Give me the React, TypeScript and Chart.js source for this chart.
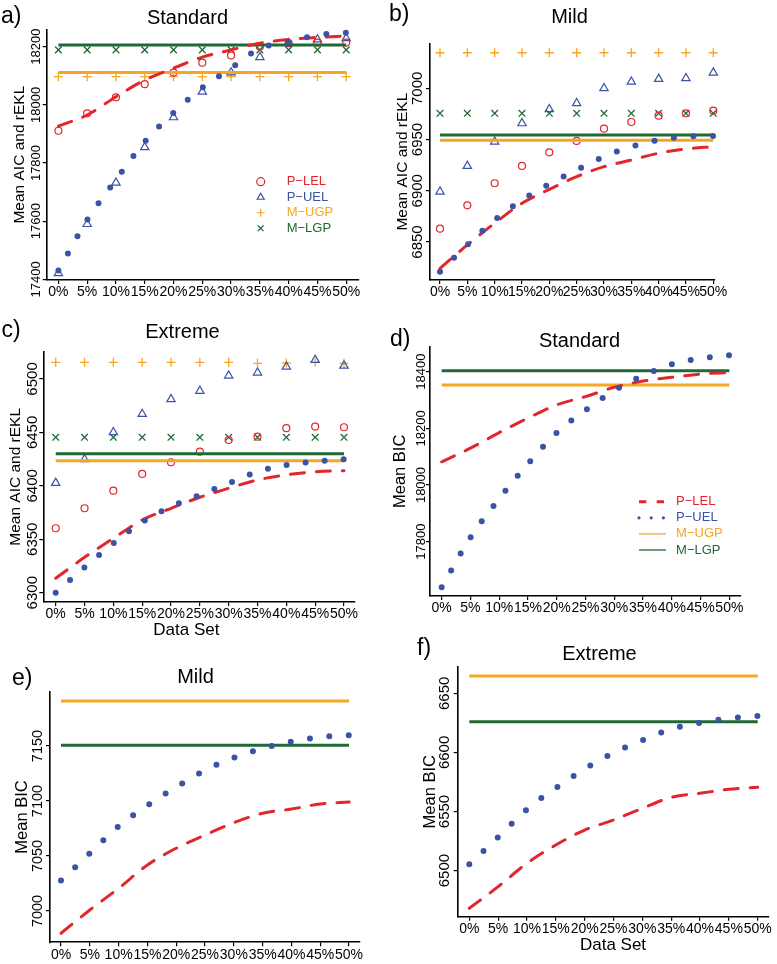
import React, { useEffect, useRef } from 'react';
import { Chart, registerables } from 'chart.js';

Chart.register(...registerables);

const FONT = '"Liberation Sans", Arial, Helvetica, sans-serif';
Chart.defaults.font.family = FONT;
Chart.defaults.color = '#000';

const RED = '#E2262C';
const BLUE = '#3A53A4';
const ORANGE = '#F6A623';
const GREEN = '#1E6A34';

// ---- shared categories: share of the data set (%) ----
const dataSetPct = [0, 5, 10, 15, 20, 25, 30, 35, 40, 45, 50];
const seriesNames = ['P\u2212LEL', 'P\u2212UEL', 'M\u2212UGP', 'M\u2212LGP'];

// ---- a) Standard: mean AIC and rEKL ----
const aLELMarks = [17911, 17971, 18026, 18071, 18111, 18145, 18170, 18200, 18212, 18214, 18214];
const aUELMarks = [17421, 17590, 17732, 17854, 17957, 18045, 18111, 18164, 18212, 18225, 18229];
const aUGPMarks = [18097, 18097, 18097, 18097, 18097, 18097, 18097, 18097, 18097, 18097, 18097];
const aLGPMarks = [18189, 18189, 18189, 18189, 18189, 18189, 18189, 18189, 18189, 18189, 18189];
const aLELCurve = [17927, 17965, 18028, 18085, 18126, 18164, 18189, 18212, 18225, 18232, 18237];
const aUELCurve = [17430, 17604, 17742, 17873, 17973, 18059, 18126, 18194, 18217, 18240, 18248];
const aUGPLevel = 18111;
const aLGPLevel = 18206;
const aYTicks = [17400, 17600, 17800, 18000, 18200];

// ---- b) Mild: mean AIC and rEKL ----
const bLELMarks = [6863, 6885.8, 6907.3, 6924.2, 6937.5, 6948.6, 6960.6, 6967.1, 6973.3, 6975.6, 6978.1];
const bUELMarks = [6899.1, 6924.2, 6947.9, 6965.8, 6979.5, 6985.4, 7000, 7006.4, 7009.1, 7009.8, 7015.2];
const bUGPMarks = [7034.7, 7034.7, 7034.7, 7034.7, 7034.7, 7034.7, 7034.7, 7034.7, 7034.7, 7034.7, 7034.7];
const bLGPMarks = [6975.6, 6975.6, 6975.6, 6975.6, 6975.6, 6975.6, 6975.6, 6975.6, 6975.6, 6975.6, 6975.6];
const bLELCurve = [6824.3, 6847.1, 6868.3, 6887.8, 6901.4, 6913.7, 6923.5, 6930, 6936.6, 6940.8, 6943];
const bUELCurve = [6821, 6847.1, 6871.5, 6891, 6906.6, 6920.3, 6933.2, 6943, 6949.5, 6952.8, 6953.5];
const bUGPLevel = 6949.3;
const bLGPLevel = 6954.4;
const bYTicks = [6850, 6900, 6950, 7000];

// ---- c) Extreme: mean AIC and rEKL ----
const cLELMarks = [6360.3, 6379, 6395.5, 6411.1, 6422, 6432, 6442.9, 6446, 6453.9, 6455.4, 6454.8];
const cUELMarks = [6402.7, 6424.8, 6450.1, 6467.2, 6481, 6488.8, 6503.1, 6505.9, 6511.5, 6517.8, 6512.4];
const cUGPMarks = [6515.6, 6515.6, 6515.6, 6515.6, 6515.6, 6515.6, 6515.6, 6514.6, 6515, 6515.6, 6514.6];
const cLGPMarks = [6445.4, 6445.4, 6445.4, 6445.4, 6445.4, 6445.4, 6445.4, 6445.4, 6445.4, 6445.4, 6445.4];
const cLELCurve = [6313.5, 6333.1, 6350.9, 6368, 6379, 6389.3, 6397.7, 6405.5, 6410.2, 6413.2, 6414.2];
const cUELCurve = [6300, 6323.8, 6346.2, 6365.9, 6380.5, 6391.4, 6402.4, 6413.2, 6419.5, 6422.6, 6424.8];
const cUGPLevel = 6423.5;
const cLGPLevel = 6430.1;
const cYTicks = [6300, 6350, 6400, 6450, 6500];

// ---- d) Standard: mean BIC ----
const dLELCurve = [18082, 18130, 18185, 18236, 18283, 18312, 18345, 18367, 18380, 18392, 18397];
const dUELCurve = [17639, 17815, 17952, 18075, 18185, 18264, 18334, 18386, 18426, 18447, 18458];
const dUGPLevel = 18353;
const dLGPLevel = 18403.5;
const dYTicks = [17800, 18000, 18200, 18400];

// ---- e) Mild: mean BIC ----
const eLELCurve = [6979.7, 7000.9, 7020.6, 7041.8, 7057, 7069, 7080.3, 7088.8, 7092.7, 7097.3, 7099];
const eUELCurve = [7027.6, 7052.4, 7077, 7096, 7112.7, 7127.9, 7139.4, 7147.9, 7153.9, 7158.2, 7159.7];
const eUGPLevel = 7190.9;
const eLGPLevel = 7150.6;
const eYTicks = [7000, 7050, 7100, 7150];

// ---- f) Extreme: mean BIC ----
const fLELCurve = [6468.1, 6486.4, 6506.2, 6521.7, 6534.3, 6542.8, 6552.7, 6562, 6565.4, 6568.8, 6570.5];
const fUELCurve = [6505.3, 6528.4, 6551.9, 6569.9, 6586, 6599.5, 6610.2, 6619.8, 6625.1, 6628.8, 6630.8];
const fUGPLevel = 6664.6;
const fLGPLevel = 6626;
const fYTicks = [6500, 6550, 6600, 6650];

// ---------------- styles ----------------
const SERIES_COLORS = [RED, BLUE, ORANGE, GREEN];
const MARKER_STYLES = ['circle', 'triangle', 'cross', 'crossRot'];
const MARKER_RADII = [3.5, 4.8, 4.5, 4.7];
const LEGEND_LINE_STYLES = [
  { width: 3, dash: [7.3, 10.4], cap: 'butt' },
  { width: 3.2, dash: [0, 12.2], cap: 'round' },
  { width: 1.3, dash: [], cap: 'butt' },
  { width: 1.3, dash: [], cap: 'butt' },
];
const DOT_GAP = 19.6;
const TICK_LEN = 4;
const LETTER_SIZE = 23;
const TITLE_SIZE = 20;
const LEGEND_FONT = 13;

type Spec = {
  id: string;
  letter: string;
  letterPos: [number, number];
  title: string;
  titlePos: [number, number];
  canvas: { x: number; y: number; w: number; h: number };
  area: { l: number; t: number; r: number; b: number };
  xRange: [number, number];
  yRange: [number, number];
  yTicks: number[];
  yTickSize: number;
  yTickGap: number;
  yTitle: string;
  yTitleSize: number;
  yTitleX: number;
  xTitle?: string;
  xTitleY?: number;
  lelCurve: number[];
  uelCurve: number[];
  ugpLevel: number;
  lgpLevel: number;
  marks?: number[][];
  legend?: 'symbols' | 'lines';
  legendPos?: [number, number];
  legendRowGap?: number;
};

const SPECS: Spec[] = [
  {
    id: 'a', letter: 'a)', letterPos: [1, 23.5], title: 'Standard', titlePos: [187.5, 24],
    canvas: { x: 0, y: 0, w: 388, h: 318 }, area: { l: 46.7, t: 29.3, r: 358.3, b: 280 },
    xRange: [-2.03, 52.1], yRange: [17397.7, 18259.8], yTicks: aYTicks, yTickSize: 13, yTickGap: 10,
    yTitle: 'Mean AIC and rEKL', yTitleSize: 15.5, yTitleX: 19.5,
    lelCurve: aLELCurve, uelCurve: aUELCurve, ugpLevel: aUGPLevel, lgpLevel: aLGPLevel,
    marks: [aLELMarks, aUELMarks, aUGPMarks, aLGPMarks],
    legend: 'symbols', legendPos: [260.7, 181.7], legendRowGap: 15.53,
  },
  {
    id: 'b', letter: 'b)', letterPos: [389, 21.7], title: 'Mild', titlePos: [569.5, 22.5],
    canvas: { x: 386, y: 0, w: 391, h: 318 }, area: { l: 430, t: 43.3, r: 715, b: 280 },
    xRange: [-1.83, 50.31], yRange: [6812.9, 7043.9], yTicks: bYTicks, yTickSize: 15, yTickGap: 12,
    yTitle: 'Mean AIC and rEKL', yTitleSize: 15.5, yTitleX: 403,
    lelCurve: bLELCurve, uelCurve: bUELCurve, ugpLevel: bUGPLevel, lgpLevel: bLGPLevel,
    marks: [bLELMarks, bUELMarks, bUGPMarks, bLGPMarks],
  },
  {
    id: 'c', letter: 'c)', letterPos: [1.5, 337.5], title: 'Extreme', titlePos: [182.5, 337.5],
    canvas: { x: 0, y: 318, w: 388, h: 330 }, area: { l: 43.3, t: 351.7, r: 355, b: 602 },
    xRange: [-2.15, 51.91], yRange: [6291.3, 6525.5], yTicks: cYTicks, yTickSize: 15, yTickGap: 10,
    yTitle: 'Mean AIC and rEKL', yTitleSize: 15.5, yTitleX: 15.8,
    xTitle: 'Data Set\u2002\u2002\u2002', xTitleY: 630,
    lelCurve: cLELCurve, uelCurve: cUELCurve, ugpLevel: cUGPLevel, lgpLevel: cLGPLevel,
    marks: [cLELMarks, cUELMarks, cUGPMarks, cLGPMarks],
  },
  {
    id: 'd', letter: 'd)', letterPos: [390, 346.5], title: 'Standard', titlePos: [579.5, 347],
    canvas: { x: 386, y: 318, w: 391, h: 322 }, area: { l: 430, t: 346.7, r: 740.7, b: 596 },
    xRange: [-2.03, 51.97], yRange: [17608.3, 18488.2], yTicks: dYTicks, yTickSize: 13, yTickGap: 8.3,
    yTitle: 'Mean BIC', yTitleSize: 16.5, yTitleX: 400.8,
    lelCurve: dLELCurve, uelCurve: dUELCurve, ugpLevel: dUGPLevel, lgpLevel: dLGPLevel,
    legend: 'lines', legendPos: [652.5, 501.7], legendRowGap: 16.1,
  },
  {
    id: 'e', letter: 'e)', letterPos: [12, 685], title: 'Mild', titlePos: [195.5, 682.5],
    canvas: { x: 0, y: 648, w: 388, h: 316 }, area: { l: 50, t: 691.7, r: 360, b: 942.3 },
    xRange: [-1.91, 51.9], yRange: [6971.5, 7199.4], yTicks: eYTicks, yTickSize: 14.5, yTickGap: 11.7,
    yTitle: 'Mean BIC', yTitleSize: 16.5, yTitleX: 22.5,
    lelCurve: eLELCurve, uelCurve: eUELCurve, ugpLevel: eUGPLevel, lgpLevel: eLGPLevel,
  },
  {
    id: 'f', letter: 'f)', letterPos: [417, 655], title: 'Extreme', titlePos: [599.5, 660],
    canvas: { x: 386, y: 640, w: 391, h: 324 }, area: { l: 457.7, t: 666.7, r: 768.3, b: 916.7 },
    xRange: [-2.01, 51.84], yRange: [6461, 6672.5], yTicks: fYTicks, yTickSize: 15, yTickGap: 12.7,
    yTitle: 'Mean BIC', yTitleSize: 16.5, yTitleX: 430.8,
    xTitle: 'Data Set', xTitleY: 945,
    lelCurve: fLELCurve, uelCurve: fUELCurve, ugpLevel: fUGPLevel, lgpLevel: fLGPLevel,
  },
];

// ---------------- helpers ----------------
const pts = (vals: number[]) => dataSetPct.map((x, i) => ({ x, y: vals[i] }));
const level = (v: number) => [
  { x: dataSetPct[0], y: v },
  { x: dataSetPct[dataSetPct.length - 1], y: v },
];

function measure(text: string, font: string) {
  const ctx = document.createElement('canvas').getContext('2d');
  if (!ctx) return text.length * 8;
  ctx.font = font;
  return ctx.measureText(text).width;
}

// put the (chartArea-positioned) legend at an exact spot inside the plot
const legendPlacer = {
  id: 'legendPlacer',
  beforeDraw(chart: any, _args: any, opts: any) {
    const lg = chart.legend;
    if (!lg || !opts || typeof opts.left !== 'number') return;
    lg.left = opts.left;
    lg.top = opts.top;
    lg.right = opts.left + 170;
    lg.bottom = opts.top + 170;
  },
};

// spread the round dots of a dotted curve evenly so one lands on each end
const dotFitter = {
  id: 'dotFitter',
  beforeDatasetsDraw(chart: any) {
    chart.data.datasets.forEach((ds: any, i: number) => {
      if (!ds.dotGap) return;
      const meta = chart.getDatasetMeta(i);
      const el = meta.data;
      if (!meta.dataset || !el || el.length < 2) return;
      let L = 0;
      for (let k = 0; k < el.length - 1; k++) {
        const a = el[k];
        const b = el[k + 1];
        const x0 = a.x, y0 = a.y;
        const x1 = a.cp2x ?? a.x, y1 = a.cp2y ?? a.y;
        const x2 = b.cp1x ?? b.x, y2 = b.cp1y ?? b.y;
        const x3 = b.x, y3 = b.y;
        let px = x0, py = y0;
        const N = 60;
        for (let t = 1; t <= N; t++) {
          const u = t / N;
          const m = 1 - u;
          const qx = m * m * m * x0 + 3 * m * m * u * x1 + 3 * m * u * u * x2 + u * u * u * x3;
          const qy = m * m * m * y0 + 3 * m * m * u * y1 + 3 * m * u * u * y2 + u * u * u * y3;
          L += Math.hypot(qx - px, qy - py);
          px = qx;
          py = qy;
        }
      }
      const n = Math.max(1, Math.round(L / ds.dotGap));
      meta.dataset.options.borderDash = [0, L / n - 0.02];
    });
  },
};

function buildDatasets(s: Spec) {
  const ds: any[] = [
    {
      label: seriesNames[1], data: pts(s.uelCurve), borderColor: BLUE, borderWidth: 6,
      borderDash: [0, DOT_GAP], borderCapStyle: 'round', pointRadius: 0,
      cubicInterpolationMode: 'monotone', clip: false, dotGap: DOT_GAP,
    },
    {
      label: seriesNames[0], data: pts(s.lelCurve), borderColor: RED, borderWidth: 3,
      borderDash: [14, 12], borderCapStyle: 'round', pointRadius: 0,
      cubicInterpolationMode: 'monotone', clip: false,
    },
    { label: seriesNames[3], data: level(s.lgpLevel), borderColor: GREEN, borderWidth: 3, pointRadius: 0, clip: false },
    { label: seriesNames[2], data: level(s.ugpLevel), borderColor: ORANGE, borderWidth: 3, pointRadius: 0, clip: false },
  ];
  if (s.marks) {
    s.marks.forEach((vals, i) => {
      ds.push({
        label: seriesNames[i], data: pts(vals), showLine: false,
        pointStyle: MARKER_STYLES[i], pointRadius: MARKER_RADII[i],
        pointBorderColor: SERIES_COLORS[i], pointBackgroundColor: 'rgba(0,0,0,0)',
        pointBorderWidth: i >= 2 ? 1.3 : 1.2, borderColor: SERIES_COLORS[i],
        backgroundColor: 'rgba(0,0,0,0)', clip: false,
      });
    });
  }
  return ds;
}

function buildConfig(s: Spec): any {
  const { canvas: cv, area } = s;
  const tickFont = `${s.yTickSize}px ${FONT}`;
  const widest = Math.max(...s.yTicks.map((v) => measure(String(v), tickFont)));
  const yPad = s.yTickGap - TICK_LEN - widest / 2;
  const yAxisW = area.l - cv.x;
  const xAxisH = cv.y + cv.h - area.b;
  const yTitleLH = s.yTitleSize * 1.2;

  const grid = {
    display: true, drawOnChartArea: false, drawTicks: true, tickLength: TICK_LEN,
    color: '#000', tickColor: '#000', lineWidth: 1.2,
  };
  const border = { display: true, color: '#000', width: 1.6 };

  let legendOpts: any = { display: false };
  let placer: any = {};
  if (s.legend && s.legendPos && s.legendRowGap) {
    const pad = s.legendRowGap - LEGEND_FONT;
    const isSym = s.legend === 'symbols';
    const boxW = isSym ? LEGEND_FONT : 27;
    const prefix = isSym ? '\u2002\u2002' : ' ';
    placer = {
      left: s.legendPos[0] - cv.x - pad - boxW / 2,
      top: s.legendPos[1] - cv.y - LEGEND_FONT / 2 - pad,
    };
    legendOpts = {
      display: true,
      position: 'chartArea',
      fullSize: false,
      align: 'start',
      labels: {
        usePointStyle: true,
        pointStyleWidth: isSym ? undefined : boxW,
        boxWidth: boxW,
        boxHeight: 5.66,
        padding: pad,
        font: { size: LEGEND_FONT, family: FONT },
        generateLabels: () =>
          seriesNames.map((name, i) => {
            const ls = LEGEND_LINE_STYLES[i];
            return isSym
              ? {
                  text: prefix + name, fillStyle: 'rgba(0,0,0,0)', strokeStyle: SERIES_COLORS[i],
                  fontColor: SERIES_COLORS[i], lineWidth: 1.2, pointStyle: MARKER_STYLES[i],
                  hidden: false, datasetIndex: i, lineDash: [], lineCap: 'butt',
                }
              : {
                  text: prefix + name, fillStyle: 'rgba(0,0,0,0)', strokeStyle: SERIES_COLORS[i],
                  fontColor: SERIES_COLORS[i], lineWidth: ls.width, pointStyle: 'line',
                  hidden: false, datasetIndex: i, lineDash: ls.dash, lineCap: ls.cap,
                };
          }),
      },
    };
  }

  const xTitle = s.xTitle
    ? {
        display: true, text: s.xTitle, color: '#000',
        font: { size: 17, family: FONT },
        padding: { top: 0, bottom: cv.h - 17 * 0.6 - ((s.xTitleY as number) - cv.y) },
      }
    : { display: false };

  return {
    type: 'line',
    data: { datasets: buildDatasets(s) },
    options: {
      responsive: false,
      maintainAspectRatio: false,
      animation: false,
      events: [],
      layout: {
        autoPadding: false,
        padding: { left: 0, top: area.t - cv.y, right: cv.x + cv.w - area.r, bottom: 0 },
      },
      scales: {
        x: {
          type: 'linear', bounds: 'data', min: s.xRange[0], max: s.xRange[1],
          afterBuildTicks: (sc: any) => { sc.ticks = dataSetPct.map((v) => ({ value: v })); },
          afterFit: (sc: any) => { sc.height = xAxisH; },
          ticks: {
            autoSkip: false, maxRotation: 0, minRotation: 0, padding: 0, color: '#000',
            font: { size: 14, family: FONT }, callback: (v: any) => `${v}%`,
          },
          grid, border, title: xTitle,
        },
        y: {
          type: 'linear', bounds: 'data', min: s.yRange[0], max: s.yRange[1],
          afterBuildTicks: (sc: any) => { sc.ticks = s.yTicks.map((v) => ({ value: v })); },
          afterFit: (sc: any) => { sc.width = yAxisW; },
          ticks: {
            minRotation: 90, maxRotation: 90, crossAlign: 'center', padding: yPad, color: '#000',
            font: { size: s.yTickSize, family: FONT }, callback: (v: any) => String(v),
          },
          grid, border,
          title: {
            display: true, text: s.yTitle, color: '#000',
            font: { size: s.yTitleSize, family: FONT },
            padding: { top: s.yTitleX - cv.x - yTitleLH / 2, bottom: 0 },
          },
        },
      },
      plugins: {
        legend: legendOpts,
        title: { display: false },
        tooltip: { enabled: false },
        legendPlacer: placer,
      },
    },
    plugins: [legendPlacer, dotFitter],
  };
}

function Panel({ spec }: { spec: Spec }) {
  const ref = useRef<HTMLCanvasElement | null>(null);
  useEffect(() => {
    if (!ref.current) return;
    const chart = new Chart(ref.current, buildConfig(spec));
    return () => chart.destroy();
  }, [spec]);
  const { canvas: cv } = spec;
  return (
    <>
      <canvas
        ref={ref}
        width={cv.w}
        height={cv.h}
        style={{ position: 'absolute', left: cv.x, top: cv.y, width: cv.w, height: cv.h }}
      />
      <div
        style={{
          position: 'absolute', left: spec.letterPos[0], top: spec.letterPos[1] - 0.8465 * LETTER_SIZE,
          fontSize: LETTER_SIZE, lineHeight: `${LETTER_SIZE}px`, whiteSpace: 'nowrap', color: '#000',
        }}
      >
        {spec.letter}
      </div>
      <div
        style={{
          position: 'absolute', left: spec.titlePos[0], top: spec.titlePos[1] - 0.8465 * TITLE_SIZE,
          transform: 'translateX(-50%)', fontSize: TITLE_SIZE, lineHeight: `${TITLE_SIZE}px`,
          whiteSpace: 'nowrap', color: '#000',
        }}
      >
        {spec.title}
      </div>
    </>
  );
}

export default function App() {
  return (
    <div
      style={{
        position: 'absolute', left: 0, top: 0, width: 777, height: 964, overflow: 'hidden',
        background: '#fff', fontFamily: FONT,
      }}
    >
      {SPECS.map((s) => (
        <Panel key={s.id} spec={s} />
      ))}
    </div>
  );
}
